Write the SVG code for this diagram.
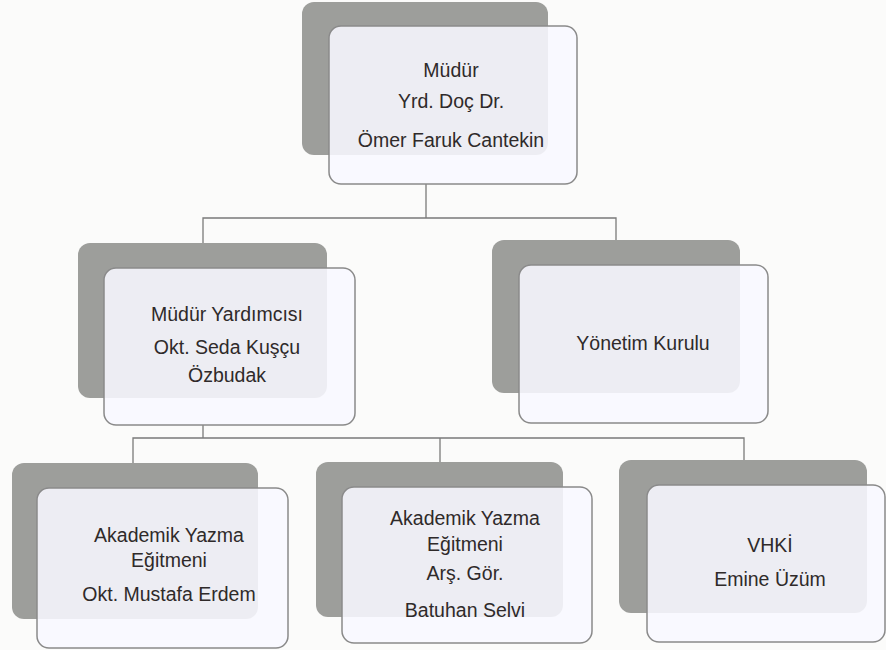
<svg xmlns="http://www.w3.org/2000/svg" width="886" height="650" viewBox="0 0 886 650">
<style>
.back{fill:#9d9e9b;}
.front{fill:#f8f8ff;fill-opacity:0.88;stroke:#8a8a8a;stroke-width:1.5;}
.lbl{font-family:"Liberation Sans",Arial,sans-serif;font-size:19.5px;fill:#2f2a2a;text-anchor:middle;}
.conn{fill:none;stroke:#7a7a7a;stroke-width:1.3;}
</style>
<rect width="886" height="650" fill="#fbfbfa"/>
<g id="connectors">
<path class="conn" d="M426,184 V218 M203,243 V218 H616 V240"/>
<path class="conn" d="M203,425 V438 M133,463 V438 H744 V460 M440,438 V462"/>
</g>
<g id="mudur">
<rect class="back" x="302" y="2" width="246" height="153" rx="12"/>
<rect class="front" x="329" y="26" width="248" height="158" rx="12"/>
<text class="lbl" x="451" y="77">Müdür</text>
<text class="lbl" x="451" y="108">Yrd. Doç Dr.</text>
<text class="lbl" x="451" y="147">Ömer Faruk Cantekin</text>
</g>
<g id="mudur-yardimcisi">
<rect class="back" x="78" y="243" width="249" height="155" rx="12"/>
<rect class="front" x="104" y="268" width="251" height="157" rx="12"/>
<text class="lbl" x="227" y="321">Müdür Yardımcısı</text>
<text class="lbl" x="227" y="354">Okt. Seda Kuşçu</text>
<text class="lbl" x="227" y="382">Özbudak</text>
</g>
<g id="yonetim-kurulu">
<rect class="back" x="492" y="240" width="248" height="153" rx="12"/>
<rect class="front" x="519" y="265" width="249" height="158" rx="12"/>
<text class="lbl" x="643" y="350">Yönetim Kurulu</text>
</g>
<g id="egitmen-1">
<rect class="back" x="12" y="463" width="246" height="156" rx="12"/>
<rect class="front" x="37" y="488" width="251" height="160" rx="12"/>
<text class="lbl" x="169" y="542">Akademik Yazma</text>
<text class="lbl" x="169" y="567">Eğitmeni</text>
<text class="lbl" x="169" y="601">Okt. Mustafa Erdem</text>
</g>
<g id="egitmen-2">
<rect class="back" x="316" y="462" width="247" height="155" rx="12"/>
<rect class="front" x="342" y="487" width="250" height="156" rx="12"/>
<text class="lbl" x="465" y="525">Akademik Yazma</text>
<text class="lbl" x="465" y="551">Eğitmeni</text>
<text class="lbl" x="465" y="580">Arş. Gör.</text>
<text class="lbl" x="465" y="617">Batuhan Selvi</text>
</g>
<g id="vhki">
<rect class="back" x="619" y="460" width="248" height="153" rx="12"/>
<rect class="front" x="647" y="485" width="238" height="157" rx="12"/>
<text class="lbl" x="770" y="552">VHKİ</text>
<text class="lbl" x="770" y="586">Emine Üzüm</text>
</g>
</svg>
